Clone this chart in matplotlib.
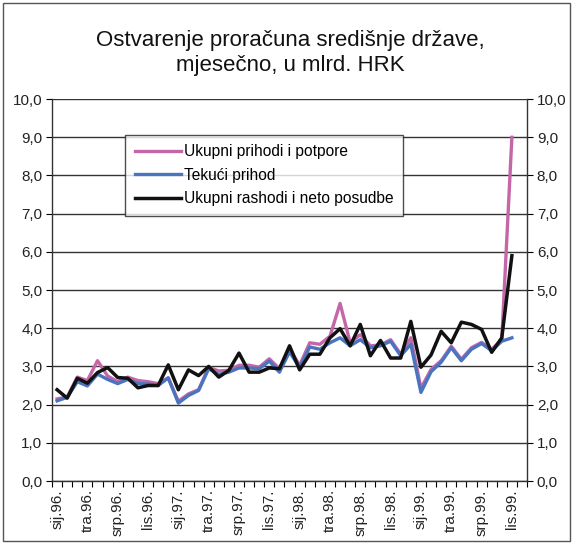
import numpy as np
import matplotlib.pyplot as plt
from matplotlib.patches import Rectangle

plt.rcParams['font.family'] = ['Liberation Sans', 'DejaVu Sans']

# mjeseci sij.96. - lis.99. (zadnja kategorija stu.99. prazna)
n_cat = 47
mjeseci = ['sij', 'tra', 'srp', 'lis']
godine = ['96', '97', '98', '99']
oznake = [m + '.' + g + '.' for g in godine for m in mjeseci]

prihodi_potpore = [2.15, 2.2, 2.72, 2.63, 3.15, 2.75, 2.6, 2.72, 2.63, 2.6, 2.55, 2.7,
                   2.09, 2.28, 2.39, 2.98, 2.88, 2.9, 3.03, 3.03, 2.98, 3.2, 2.94, 3.46,
                   3.03, 3.62, 3.58, 3.79, 4.65, 3.62, 3.83, 3.54, 3.56, 3.7, 3.32, 3.75,
                   2.43, 2.92, 3.15, 3.53, 3.19, 3.49, 3.63, 3.45, 3.7, 9.0]
tekuci_prihod = [2.1, 2.19, 2.6, 2.49, 2.8, 2.66, 2.55, 2.66, 2.55, 2.54, 2.5, 2.7,
                 2.04, 2.24, 2.37, 2.94, 2.79, 2.85, 2.96, 2.96, 2.94, 3.14, 2.85, 3.38,
                 2.97, 3.51, 3.45, 3.62, 3.75, 3.54, 3.7, 3.49, 3.54, 3.66, 3.28, 3.58,
                 2.32, 2.86, 3.11, 3.49, 3.15, 3.45, 3.6, 3.41, 3.66, 3.75]
rashodi = [2.39, 2.17, 2.69, 2.56, 2.84, 2.97, 2.71, 2.69, 2.44, 2.5, 2.5, 3.04,
           2.39, 2.91, 2.76, 3.0, 2.72, 2.9, 3.35, 2.85, 2.85, 2.96, 2.94, 3.54,
           2.91, 3.32, 3.32, 3.75, 3.99, 3.54, 4.1, 3.28, 3.68, 3.22, 3.22, 4.18,
           2.98, 3.3, 3.92, 3.62, 4.16, 4.1, 3.97, 3.37, 3.75, 5.9]

fig = plt.figure(figsize=(5.73, 5.44), dpi=100)
fig.patches.append(Rectangle((0.006, 0.006), 0.988, 0.988, transform=fig.transFigure,
                             fill=False, edgecolor='#555555', linewidth=1))

ax = fig.add_axes([0.0908, 0.1158, 0.829, 0.702])

x = np.arange(len(rashodi)) + 0.5
ax.plot(x, prihodi_potpore, color='#c466a8', lw=2.4, label='Ukupni prihodi i potpore', zorder=3)
ax.plot(x, tekuci_prihod, color='#4a74c0', lw=2.4, label='Tekući prihod', zorder=3)
ax.plot(x, rashodi, color='#111111', lw=2.5, label='Ukupni rashodi i neto posudbe', zorder=4)

ax.set_xlim(0, n_cat)
ax.set_ylim(0, 10)
ax.set_yticks(np.arange(0, 11, 1))
ax.set_yticklabels([('%.1f' % v).replace('.', ',') for v in range(11)], fontsize=11, color='#222222')
ax.yaxis.grid(True, color='#333333', lw=1)
ax.set_axisbelow(True)
ax.tick_params(axis='y', which='major', direction='out', length=4, right=True, labelright=True, pad=3)

ax.set_xticks(np.arange(0, n_cat + 1))
ax.set_xticklabels([])
ax.tick_params(axis='x', which='major', direction='out', length=4)
ax.set_xticks(np.arange(0, 46, 3) + 0.5, minor=True)
ax.set_xticklabels(oznake, minor=True, rotation=90, fontsize=11, color='#222222')
ax.tick_params(axis='x', which='minor', length=0, pad=6)

ax.spines['top'].set_visible(False)
for s in ['left', 'right', 'bottom']:
    ax.spines[s].set_color('#333333')
    ax.spines[s].set_linewidth(1)

leg = ax.legend(loc='upper left', bbox_to_anchor=(0.154, 0.906), borderaxespad=0,
                fontsize=11.2, frameon=True, fancybox=False, handlelength=3.0,
                handletextpad=0.2, borderpad=0.6, labelspacing=0.55)
leg.get_frame().set_edgecolor('#222222')
leg.get_frame().set_linewidth(1)

fig.text(0.506, 0.903, 'Ostvarenje proračuna središnje države,\nmjesečno, u mlrd. HRK',
         ha='center', va='center', fontsize=16, linespacing=1.25, color='#111111')

fig.savefig('out.png', dpi=100)
